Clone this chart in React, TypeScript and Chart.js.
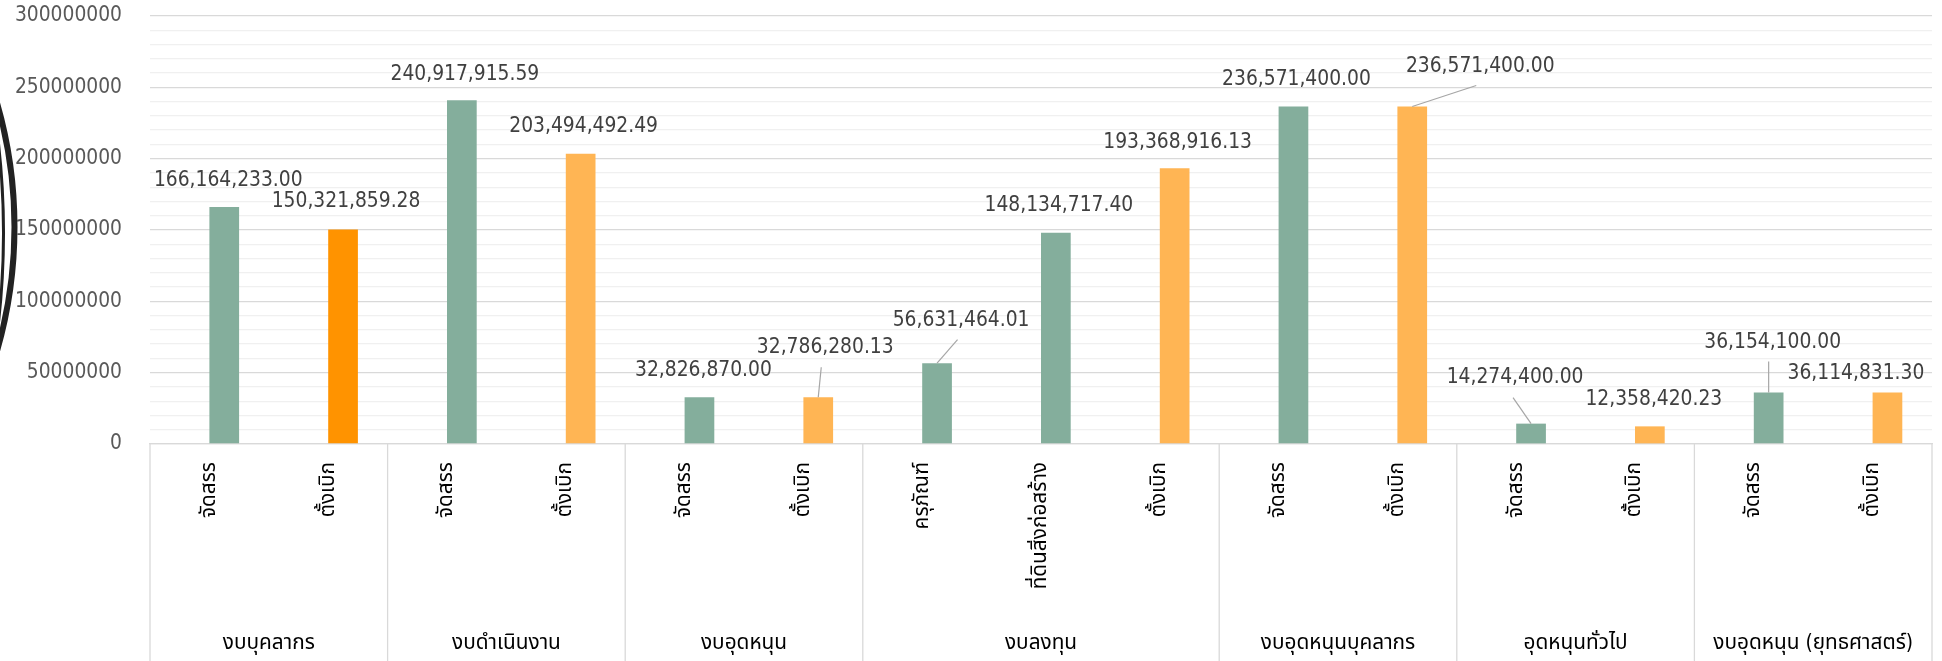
import React, { useEffect, useRef } from "react";
import { Chart, registerables } from "chart.js";

Chart.register(...registerables);

// ---- data ----
const groupNames = [
  "งบบุคลากร",
  "งบดำเนินงาน",
  "งบอุดหนุน",
  "งบลงทุน",
  "งบอุดหนุนบุคลากร",
  "อุดหนุนทั่วไป",
  "งบอุดหนุน (ยุทธศาสตร์)",
];
const groupSizes = [2, 2, 2, 3, 2, 2, 2];
const categories = [
  "จัดสรร", "ตั้งเบิก",
  "จัดสรร", "ตั้งเบิก",
  "จัดสรร", "ตั้งเบิก",
  "ครุภัณฑ์", "ที่ดินสิ่งก่อสร้าง", "ตั้งเบิก",
  "จัดสรร", "ตั้งเบิก",
  "จัดสรร", "ตั้งเบิก",
  "จัดสรร", "ตั้งเบิก",
];
const values = [
  166164233.0, 150321859.28,
  240917915.59, 203494492.49,
  32826870.0, 32786280.13,
  56631464.01, 148134717.4, 193368916.13,
  236571400.0, 236571400.0,
  14274400.0, 12358420.23,
  36154100.0, 36114831.3,
];
const yMax = 300000000;
const yMinorStep = 10000000;
const yMajorStep = 50000000;

// ---- styles ----
const GREEN = "#84AE9C";
const ORANGE_DARK = "#FF9300";
const ORANGE = "#FFB554";
const barColors = [
  GREEN, ORANGE_DARK,
  GREEN, ORANGE,
  GREEN, ORANGE,
  GREEN, GREEN, ORANGE,
  GREEN, ORANGE,
  GREEN, ORANGE,
  GREEN, ORANGE,
];
// label placement relative to bar top-centre: [dx, dy, leaderStartDx, leaderStartDy] (null = no leader)
const labelPlacement: Array<[number, number, number | null, number | null]> = [
  [4, -26, null, null],
  [3, -28, null, null],
  [3, -26, null, null],
  [3, -27, null, null],
  [4, -27, null, null],
  [7, -50, -4, 20],
  [24, -43, -3.5, 19.5],
  [3, -27, null, null],
  [3, -26, null, null],
  [3, -26.5, null, null],
  [68, -40, -4, 19],
  [-16, -46, -2, 20],
  [4, -27, null, null],
  [4, -50, -4, 19],
  [-31.5, -18.5, null, null],
];
const FONT = "'DejaVu Sans Condensed', 'Noto Sans Thai', Tahoma, sans-serif";
const FONT_SIZE = 20.8;

const fmt = (v: number) =>
  v.toLocaleString("en-US", { minimumFractionDigits: 2, maximumFractionDigits: 2 });

const decorPlugin = {
  id: "decor",
  beforeDraw(chart: any) {
    const ctx = chart.ctx;
    ctx.save();
    ctx.strokeStyle = "#222222";
    ctx.lineWidth = 6;
    ctx.beginPath();
    ctx.arc(-433, 227, 447.5, -0.35, 0.35);
    ctx.stroke();
    ctx.lineWidth = 3;
    ctx.beginPath();
    ctx.arc(-800, 233, 803.5, -0.12, 0.12);
    ctx.stroke();
    ctx.restore();
  },
};

const groupAxisPlugin = {
  id: "groupAxis",
  afterDraw(chart: any) {
    const ctx = chart.ctx;
    const xs = chart.scales.x;
    const area = chart.chartArea;
    const bottom = chart.height;
    const bounds: number[] = [area.left];
    let idx = 0;
    groupSizes.forEach((n, g) => {
      idx += n;
      if (g < groupSizes.length - 1) {
        bounds.push((xs.getPixelForTick(idx - 1) + xs.getPixelForTick(idx)) / 2);
      }
    });
    bounds.push(area.right);
    ctx.save();
    ctx.strokeStyle = "#D9D9D9";
    ctx.lineWidth = 1.3;
    bounds.forEach((b) => {
      ctx.beginPath();
      ctx.moveTo(b, area.bottom);
      ctx.lineTo(b, bottom);
      ctx.stroke();
    });
    ctx.fillStyle = "#000000";
    ctx.font = `${FONT_SIZE}px ${FONT}`;
    ctx.textAlign = "center";
    ctx.textBaseline = "middle";
    groupNames.forEach((name, g) => {
      ctx.fillText(name, (bounds[g] + bounds[g + 1]) / 2, 644);
    });
    ctx.restore();
  },
};

const dataLabelPlugin = {
  id: "dataLabels",
  afterDatasetsDraw(chart: any) {
    const ctx = chart.ctx;
    const meta = chart.getDatasetMeta(1);
    ctx.save();
    ctx.font = `${FONT_SIZE}px ${FONT}`;
    ctx.textAlign = "center";
    ctx.textBaseline = "middle";
    meta.data.forEach((el: any, i: number) => {
      const [dx, dy, lx, ly] = labelPlacement[i];
      const cx = el.x + dx;
      const cy = el.y + dy;
      if (lx !== null && ly !== null) {
        ctx.strokeStyle = "#A6A6A6";
        ctx.lineWidth = 1.2;
        ctx.beginPath();
        ctx.moveTo(cx + lx, cy + ly);
        ctx.lineTo(el.x, el.y);
        ctx.stroke();
      }
      ctx.fillStyle = "#404040";
      ctx.fillText(fmt(values[i]), cx, cy);
    });
    ctx.restore();
  },
};

export default function App() {
  const ref = useRef<HTMLCanvasElement | null>(null);
  useEffect(() => {
    document.body.style.margin = "0";
    if (!ref.current) return;
    const chart = new Chart(ref.current, {
      type: "bar",
      data: {
        labels: categories,
        datasets: [
          { label: "", data: values.map(() => null), backgroundColor: "rgba(0,0,0,0)" },
          { label: "", data: values, backgroundColor: barColors },
        ],
      },
      options: {
        responsive: false,
        animation: false,
        events: [],
        datasets: { bar: { categoryPercentage: 0.5, barPercentage: 1.0 } },
        layout: { padding: { top: 16, right: 10, bottom: 0, left: 0 } },
        plugins: { legend: { display: false }, tooltip: { enabled: false } },
        scales: {
          x: {
            offset: true,
            grid: { display: false, drawTicks: false },
            border: { display: true, color: "#D9D9D9", width: 1.3 },
            ticks: {
              autoSkip: false,
              maxRotation: 90,
              minRotation: 90,
              padding: 18,
              color: "#000000",
              font: { family: FONT, size: FONT_SIZE },
            },
            afterFit: (s: any) => {
              s.height = 217;
            },
          },
          y: {
            min: 0,
            max: yMax,
            grid: {
              drawTicks: true,
              tickLength: 28,
              tickColor: "rgba(0,0,0,0)",
              lineWidth: 1.3,
              color: (c: any) =>
                c.tick && c.tick.value % yMajorStep === 0 ? "#D9D9D9" : "#F0F0F0",
            },
            border: { display: false },
            ticks: {
              stepSize: yMinorStep,
              autoSkip: false,
              padding: 0,
              color: "#595959",
              font: { family: FONT, size: FONT_SIZE },
              callback: (v: any) => (Number(v) % yMajorStep === 0 ? String(v) : ""),
            },
            afterFit: (s: any) => {
              s.width = 150;
            },
          },
        },
      },
      plugins: [decorPlugin, dataLabelPlugin, groupAxisPlugin],
    } as any);
    return () => chart.destroy();
  }, []);
  return (
    <canvas ref={ref} width={1942} height={661} style={{ display: "block", width: 1942, height: 661 }} />
  );
}
